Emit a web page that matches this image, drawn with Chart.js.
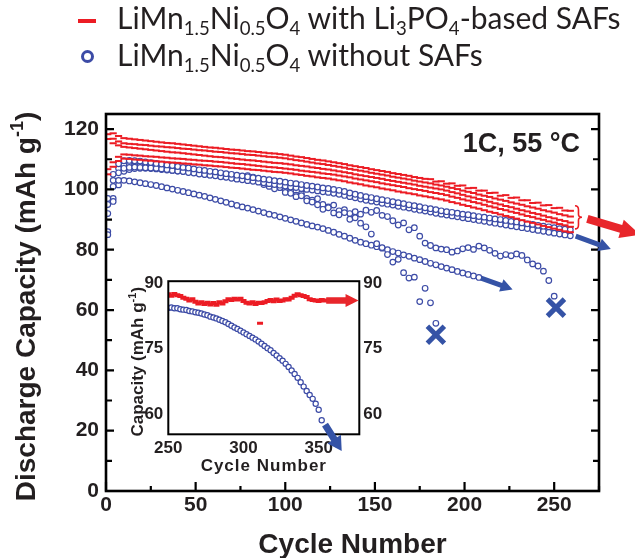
<!DOCTYPE html>
<html>
<head>
<meta charset="utf-8">
<script src="https://cdn.jsdelivr.net/npm/chart.js@4.4.1/dist/chart.umd.min.js"></script>
<style>
  body { margin: 0; background: #fff; }
  #wrap { position: relative; width: 635px; height: 558px; overflow: hidden; background: #fff; }
  #main { position: absolute; left: 0; top: 0; }
  #inset { position: absolute; left: 110px; top: 266px; }
  .lg { position: absolute; left: 117px; font-family: Lato, "Open Sans", sans-serif; font-size: 30px;
        line-height: 34px; white-space: nowrap; color: #231f20; }
  .lg sub { font-size: 0.62em; vertical-align: baseline; position: relative; top: 0.3em; }
  .dash { position: absolute; left: 78px; top: 19px; width: 18px; height: 4px; background: #ec1c24; }
  .ring { position: absolute; left: 81px; top: 50px; width: 7px; height: 7px; border: 3.3px solid #3c4ba6; border-radius: 50%; }
</style>
</head>
<body>
<div id="wrap">
  <canvas id="main" width="635" height="558"></canvas>
  <canvas id="inset" width="290" height="214"></canvas>
  <div class="dash"></div>
  <div class="lg" style="top:0px">LiMn<sub>1.5</sub>Ni<sub>0.5</sub>O<sub>4</sub> with Li<sub>3</sub>PO<sub>4</sub>-based SAFs</div>
  <div class="ring"></div>
  <div class="lg" style="top:37px">LiMn<sub>1.5</sub>Ni<sub>0.5</sub>O<sub>4</sub> without SAFs</div>
</div>
<script>
// cycling at 1C, 55 C: discharge capacity read every 3rd cycle, starting at cycle 1
const CYCLE_START = 1;
const CYCLE_STEP = 3;

// cells with Li3PO4-based SAFs
const withSAF1 = [
  120.0, 118.6, 117.7, 117.0, 116.8, 116.6, 116.4, 116.2, 116.0, 115.8,
  115.6, 115.4, 115.3, 115.1, 114.9, 114.7, 114.5, 114.3, 114.1, 113.9,
  113.8, 113.6, 113.4, 113.2, 113.1, 112.9, 112.7, 112.6, 112.4, 112.2,
  112.0, 111.9, 111.7, 111.5, 111.2, 110.9, 110.7, 110.4, 110.1, 109.8,
  109.6, 109.3, 109.0, 108.7, 108.4, 108.0, 107.7, 107.4, 107.1, 106.7,
  106.4, 106.1, 105.8, 105.4, 105.1, 104.8, 104.5, 104.1, 103.8, 103.5,
  103.4, 102.6, 102.7, 101.9, 102.0, 101.2, 101.3, 100.4, 100.5, 99.6,
  99.6, 98.8, 98.9, 97.9, 98.1, 97.2, 97.3, 96.4, 96.4, 95.5,
  95.6, 94.7, 94.8, 93.8, 93.9, 93.0, 92.9
];
const withSAF2 = [
  118.3, 116.8, 115.9, 115.3, 115.1, 115.0, 114.8, 114.7, 114.5, 114.3,
  114.2, 114.0, 113.9, 113.7, 113.5, 113.4, 113.2, 113.0, 112.9, 112.7,
  112.5, 112.4, 112.2, 112.0, 111.9, 111.7, 111.5, 111.4, 111.2, 111.0,
  110.8, 110.7, 110.5, 110.3, 110.0, 109.7, 109.5, 109.2, 108.9, 108.6,
  108.4, 108.1, 107.8, 107.5, 107.2, 106.8, 106.5, 106.2, 105.9, 105.5,
  105.2, 104.9, 104.6, 104.2, 103.9, 103.6, 103.3, 102.9, 102.6, 102.3,
  102.0, 101.6, 101.3, 100.9, 100.5, 100.1, 99.6, 99.2, 98.8, 98.3,
  97.9, 97.5, 97.0, 96.6, 96.2, 95.7, 95.3, 94.9, 94.4, 94.0,
  93.6, 93.1, 92.7, 92.3, 91.8, 91.4, 91.0
];
const withSAF3 = [
  116.7, 115.3, 114.6, 114.1, 113.9, 113.7, 113.5, 113.3, 113.1, 112.9,
  112.7, 112.5, 112.3, 112.2, 112.0, 111.8, 111.6, 111.4, 111.2, 111.0,
  110.8, 110.7, 110.5, 110.3, 110.1, 109.9, 109.7, 109.6, 109.4, 109.2,
  109.0, 108.8, 108.7, 108.5, 108.3, 108.0, 107.8, 107.6, 107.3, 107.1,
  106.8, 106.6, 106.3, 106.0, 105.7, 105.4, 105.0, 104.7, 104.4, 104.1,
  103.8, 103.5, 103.1, 102.8, 102.5, 102.2, 101.9, 101.6, 101.2, 100.9,
  100.6, 100.3, 100.0, 99.6, 99.1, 98.7, 98.2, 97.7, 97.3, 96.8,
  96.4, 95.9, 95.4, 95.0, 94.5, 94.1, 93.6, 93.1, 92.7, 92.2,
  91.8, 91.3, 90.8, 90.4, 89.9, 89.5, 89.0
];
const withSAF4 = [
  106.7, 109.0, 110.8, 111.6, 111.5, 111.3, 111.2, 111.0, 110.9, 110.8,
  110.6, 110.5, 110.3, 110.2, 110.1, 109.9, 109.8, 109.6, 109.5, 109.4,
  109.2, 109.1, 108.9, 108.7, 108.5, 108.4, 108.2, 108.0, 107.8, 107.6,
  107.4, 107.3, 107.1, 106.9, 106.7, 106.5, 106.2, 106.0, 105.8, 105.6,
  105.3, 105.1, 104.9, 104.6, 104.3, 104.0, 103.6, 103.3, 103.0, 102.7,
  102.4, 102.0, 101.7, 101.4, 101.1, 100.8, 100.4, 100.1, 99.8, 99.5,
  99.1, 98.8, 98.5, 98.1, 97.6, 97.2, 96.7, 96.3, 95.8, 95.4,
  94.9, 94.4, 94.0, 93.5, 93.1, 92.6, 92.2, 91.7, 91.2, 90.8,
  90.3, 89.9, 89.4, 89.0, 88.5, 88.1, 87.6
];
const withSAF5 = [
  105.0, 107.5, 109.4, 110.2, 110.1, 109.9, 109.8, 109.6, 109.5, 109.3,
  109.2, 109.0, 108.9, 108.8, 108.6, 108.5, 108.3, 108.2, 108.0, 107.9,
  107.7, 107.6, 107.4, 107.2, 107.1, 106.9, 106.7, 106.5, 106.4, 106.2,
  106.0, 105.8, 105.7, 105.5, 105.3, 105.0, 104.8, 104.5, 104.3, 104.0,
  103.8, 103.6, 103.3, 103.0, 102.7, 102.3, 102.0, 101.7, 101.3, 101.0,
  100.7, 100.3, 100.0, 99.7, 99.3, 99.0, 98.7, 98.4, 98.0, 97.7,
  97.4, 97.0, 96.7, 96.3, 95.8, 95.4, 94.9, 94.5, 94.0, 93.6,
  93.1, 92.6, 92.2, 91.7, 91.2, 90.8, 90.3, 89.8, 89.3, 88.9,
  88.4, 87.9, 87.5, 87.0, 86.6, 86.1, 85.8
];

// cells without SAFs
const noSAF1 = [
  97.0, 105.0, 108.5, 109.5, 109.6, 109.5, 109.4, 109.1, 108.9, 108.6,
  108.4, 108.1, 107.9, 107.6, 107.3, 107.1, 106.8, 106.5, 106.3, 106.0,
  105.8, 105.5, 105.2, 105.0, 104.7, 104.5, 104.2, 103.9, 103.7, 103.4,
  103.2, 102.9, 102.7, 102.4, 102.1, 101.9, 101.6, 101.3, 101.1, 100.8,
  100.5, 100.3, 100.0, 99.7, 99.3, 98.8, 98.4, 98.0, 97.6, 97.3,
  96.9, 96.6, 96.3, 95.9, 95.6, 95.3, 94.9, 94.6, 94.3, 93.9,
  93.6, 93.3, 92.9, 92.6, 92.4, 92.1, 91.8, 91.6, 91.3, 91.0,
  90.8, 90.5, 90.2, 90.0, 89.7, 89.4, 89.2, 88.9, 88.6, 88.4,
  88.1, 87.8, 87.6, 87.3, 87.0, 86.8, 86.6
];
const noSAF2 = [
  92.0, 101.0, 105.5, 107.0, 107.3, 107.4, 107.3, 107.2, 107.1, 107.0,
  106.8, 106.6, 106.3, 106.1, 105.9, 105.6, 105.4, 105.1, 104.9, 104.7,
  104.5, 104.2, 104.0, 103.7, 103.4, 103.2, 102.9, 102.7, 102.4, 102.2,
  101.9, 101.6, 101.4, 101.1, 100.8, 100.6, 100.3, 100.0, 99.8, 99.5,
  99.2, 99.0, 98.7, 98.4, 98.0, 97.6, 97.2, 96.8, 96.4, 96.1,
  95.8, 95.4, 95.1, 94.8, 94.4, 94.1, 93.8, 93.4, 93.1, 92.8,
  92.5, 92.1, 91.8, 91.5, 91.2, 90.9, 90.6, 90.3, 90.0, 89.7,
  89.4, 89.1, 88.8, 88.5, 88.2, 87.9, 87.6, 87.3, 87.0, 86.7,
  86.4, 86.1, 85.8, 85.5, 85.2, 84.9, 84.6
];
const noSAF3 = [
  85.0, 96.0, 103.0, 106.0, 106.6, 106.9, 107.0, 107.0, 106.9, 106.8,
  106.6, 106.4, 106.3, 106.1, 106.0, 105.8, 105.6, 105.3, 105.0, 104.8,
  104.6, 104.4, 104.2, 103.9, 103.6, 103.5, 104.6, 104.1, 103.2, 101.6,
  101.0, 100.2, 100.6, 99.0, 98.7, 97.6, 97.9, 96.2, 95.8, 94.9,
  93.4, 93.9, 92.2, 91.6, 92.3, 90.1, 90.6, 88.8, 87.6, 85.2,
  82.0, 80.7, 78.4, 75.9, 76.8, 72.4, 70.6, 70.9, 62.8, 67.2,
  62.4, 55.6
];
const noSAF4 = [
  95.0, 103.0, 107.0, 108.0, 108.1, 108.0, 107.9, 107.8, 107.7, 107.6,
  107.5, 107.3, 107.1, 106.9, 106.7, 106.5, 106.3, 106.0, 105.8, 105.5,
  105.2, 105.0, 104.7, 104.5, 104.3, 104.0, 103.7, 103.5, 103.0, 102.5,
  101.8, 101.4, 100.6, 100.0, 99.4, 98.1, 98.6, 97.0, 96.4, 96.9,
  95.0, 94.2, 94.8, 92.9, 93.3, 92.0, 92.6, 91.8, 93.1, 92.4,
  93.0, 91.4, 91.0, 89.6, 88.2, 88.9, 86.6, 87.3, 84.5, 82.2,
  81.4, 80.6, 80.2, 80.0, 79.2, 79.6, 80.3, 80.7, 80.1, 81.2,
  80.6, 79.8, 78.8, 77.9, 78.4, 78.0, 78.6, 78.1, 76.6, 75.3,
  74.6, 72.9, 69.8, 64.6
];
const noSAF5 = [
  86.0, 97.0, 101.5, 103.0, 102.8, 102.5, 102.2, 101.9, 101.6, 101.3,
  100.9, 100.5, 100.1, 99.7, 99.3, 98.9, 98.5, 98.1, 97.7, 97.2,
  96.7, 96.2, 95.7, 95.2, 94.7, 94.2, 93.8, 93.3, 92.8, 92.3,
  91.8, 91.4, 90.9, 90.4, 89.9, 89.4, 88.9, 88.4, 87.9, 87.5,
  87.0, 86.4, 85.8, 85.1, 84.5, 83.8, 83.1, 82.5, 82.0, 81.5,
  81.0, 80.5, 80.0, 79.4, 78.9, 78.3, 77.8, 77.2, 76.7, 76.1,
  75.5, 75.0, 74.4, 73.9, 73.4, 72.8, 72.3, 71.8, 71.3, 70.8
];

// cells that failed: last cycle and the capacity where they were stopped
const failCycle = [184, 251];
const failCapacity = [51.8, 60.8];

// inset: cycles 250 onward, every 2nd cycle
const INSET_START = 250;
const INSET_STEP = 2;
const insetWithSAF = [
  87.4, 87.1, 87.5, 87.2, 87.0,
  86.6, 86.4, 86.0, 86.3, 85.7,
  85.3, 85.6, 85.2, 85.5, 85.1, 85.4, 85.0, 85.6, 85.3, 85.8,
  86.3, 86.1, 86.4, 86.2, 86.4, 85.9,
  85.5, 85.3, 85.6, 85.2, 85.5, 85.4, 85.6,
  85.9, 86.1, 85.8, 86.2, 85.9, 86.0, 86.3, 86.2, 86.6,
  87.1, 87.4, 87.2, 87.0, 86.8,
  86.3, 86.1, 86.0, 85.9, 86.1, 86.0
];
const insetStrayCycle = [311];
const insetStrayCapacity = [80.8];
const insetNoSAF = [
  84.3, 84.4, 84.2, 84.2, 84.0, 83.9, 83.8, 83.6, 83.5, 83.3,
  83.2, 83.0, 82.8, 82.6, 82.3, 82.1, 81.9, 81.6, 81.3, 81.0,
  80.6, 80.2, 79.8, 79.5, 79.1, 78.7, 78.3, 77.9, 77.5, 77.1,
  76.6, 76.1, 75.6, 75.1, 74.6, 74.0, 73.4, 72.8, 72.2, 71.5,
  70.8, 70.0, 69.2, 68.3, 67.3, 66.3, 65.3, 64.4, 63.5, 62.4,
  61.0, 58.6
];

// axis ticks (labelled every 50 cycles / 20 mAh g-1, minor in between)
const xTicks = [0, 25, 50, 75, 100, 125, 150, 175, 200, 225, 250, 275];
const yTicks = [0, 10, 20, 30, 40, 50, 60, 70, 80, 90, 100, 110, 120];
const insetXTicks = [250, 300, 350];
const insetYTicks = [60, 75, 90];

const RED = '#ec1c24';
const BLUE = '#3c4ba6';
const RED_ARROW = '#e8262b';
const BLUE_ARROW = '#3553a6';
const INK = '#231f20';
const BOLD = '"Liberation Sans", Arial, sans-serif';
const NARROW = '"Liberation Sans Narrow", "Arial Narrow", "Liberation Sans", Arial, sans-serif';

function toPoints(start, step, vals) {
  return vals.map((v, i) => ({ x: start + step * i, y: v }));
}
function pairs(xs, ys) {
  return xs.map((x, i) => ({ x: x, y: ys[i] }));
}

function redSet(vals, start, step, r, w) {
  return {
    data: toPoints(start, step, vals),
    pointStyle: 'line', pointRadius: r, borderWidth: w,
    borderColor: RED, backgroundColor: RED, showLine: false
  };
}
function blueSet(vals, start, step, r, w) {
  return {
    data: toPoints(start, step, vals),
    pointStyle: 'circle', pointRadius: r, borderWidth: w,
    borderColor: BLUE, backgroundColor: '#ffffff', showLine: false
  };
}

function drawArrow(ctx, x1, y1, x2, y2, shaft, head, headLen, color) {
  const a = Math.atan2(y2 - y1, x2 - x1);
  const L = Math.hypot(x2 - x1, y2 - y1);
  ctx.save();
  ctx.translate(x1, y1);
  ctx.rotate(a);
  ctx.fillStyle = color;
  ctx.beginPath();
  ctx.moveTo(0, -shaft / 2);
  ctx.lineTo(L - headLen, -shaft / 2);
  ctx.lineTo(L - headLen, -head / 2);
  ctx.lineTo(L, 0);
  ctx.lineTo(L - headLen, head / 2);
  ctx.lineTo(L - headLen, shaft / 2);
  ctx.lineTo(0, shaft / 2);
  ctx.closePath();
  ctx.fill();
  ctx.restore();
}

// rotated axis title with a superscript "-1"
function drawYTitle(ctx, cx, cy, size, supSize, lead, sup, tail) {
  ctx.save();
  ctx.translate(cx, cy);
  ctx.rotate(-Math.PI / 2);
  ctx.fillStyle = INK;
  ctx.textBaseline = 'alphabetic';
  ctx.textAlign = 'left';
  ctx.font = 'bold ' + size + 'px ' + BOLD;
  const w1 = ctx.measureText(lead).width;
  const w3 = ctx.measureText(tail).width;
  ctx.font = 'bold ' + supSize + 'px ' + BOLD;
  const w2 = ctx.measureText(sup).width;
  let x = -(w1 + w2 + w3) / 2;
  ctx.font = 'bold ' + size + 'px ' + BOLD;
  ctx.fillText(lead, x, 0);
  x += w1;
  ctx.font = 'bold ' + supSize + 'px ' + BOLD;
  ctx.fillText(sup, x, -size * 0.42);
  x += w2;
  ctx.font = 'bold ' + size + 'px ' + BOLD;
  ctx.fillText(tail, x, 0);
  ctx.restore();
}

const mainDecor = {
  id: 'mainDecor',
  afterDraw(chart) {
    const ctx = chart.ctx;
    const a = chart.chartArea;
    const xs = chart.scales.x, ys = chart.scales.y;
    const px = v => xs.getPixelForValue(v);
    const py = v => ys.getPixelForValue(v);
    ctx.save();

    // frame and inward ticks
    ctx.strokeStyle = '#000';
    ctx.lineWidth = 2.6;
    ctx.strokeRect(a.left, a.top, a.right - a.left, a.bottom - a.top);
    ctx.lineWidth = 2.2;
    ctx.beginPath();
    xTicks.forEach(v => {
      const len = v % 50 === 0 ? 9 : 5;
      ctx.moveTo(px(v), a.bottom);
      ctx.lineTo(px(v), a.bottom - len);
    });
    yTicks.forEach(v => {
      const len = v % 20 === 0 ? 8 : 6;
      ctx.moveTo(a.left, py(v));
      ctx.lineTo(a.left + len, py(v));
      ctx.moveTo(a.right, py(v));
      ctx.lineTo(a.right - len, py(v));
    });
    ctx.stroke();

    // condition label
    ctx.fillStyle = INK;
    ctx.font = 'bold 27px ' + BOLD;
    ctx.textAlign = 'left';
    ctx.textBaseline = 'middle';
    ctx.fillText('1C, 55 \u00B0C', px(199), py(114.9));

    // brace grouping the SAF cells
    const bx = px(261.6), bt = py(94.6), bb = py(86.9), bm = (bt + bb) / 2, bw = 7;
    ctx.strokeStyle = RED;
    ctx.lineWidth = 1.6;
    ctx.beginPath();
    ctx.moveTo(bx, bt);
    ctx.quadraticCurveTo(bx + bw / 2, bt, bx + bw / 2, bt + 4);
    ctx.lineTo(bx + bw / 2, bm - 3);
    ctx.quadraticCurveTo(bx + bw / 2, bm, bx + bw, bm);
    ctx.quadraticCurveTo(bx + bw / 2, bm, bx + bw / 2, bm + 3);
    ctx.lineTo(bx + bw / 2, bb - 4);
    ctx.quadraticCurveTo(bx + bw / 2, bb, bx, bb);
    ctx.stroke();

    // trend arrows
    drawArrow(ctx, px(268.5), py(90.2), px(298), py(85.0), 8, 19, 20, RED_ARROW);
    drawArrow(ctx, px(262), py(84.5), px(281.6), py(80.2), 5, 13, 12, BLUE_ARROW);
    drawArrow(ctx, px(209.2), py(70.6), px(226.8), py(66.8), 5, 13, 12, BLUE_ARROW);

    // axis titles
    ctx.fillStyle = INK;
    ctx.font = 'bold 28px ' + BOLD;
    ctx.textAlign = 'center';
    ctx.textBaseline = 'alphabetic';
    ctx.fillText('Cycle Number', (a.left + a.right) / 2, 553);
    drawYTitle(ctx, 35, (a.top + a.bottom) / 2 + 4, 28, 18, 'Discharge Capacity (mAh g', '-1', ')');
    ctx.restore();
  }
};

const insetDecor = {
  id: 'insetDecor',
  afterDraw(chart) {
    const ctx = chart.ctx;
    const a = chart.chartArea;
    const xs = chart.scales.x, ys = chart.scales.y;
    const px = v => xs.getPixelForValue(v);
    const py = v => ys.getPixelForValue(v);
    ctx.save();
    ctx.strokeStyle = '#000';
    ctx.lineWidth = 2;
    ctx.strokeRect(a.left, a.top, a.right - a.left, a.bottom - a.top);

    drawArrow(ctx, px(355), py(86.0), px(376.5), py(86.0), 6.5, 13, 13, RED_ARROW);
    drawArrow(ctx, px(354.2), py(57.6), px(365.3), py(51.6), 7, 16, 14, BLUE_ARROW);

    ctx.fillStyle = INK;
    ctx.font = 'bold 17px ' + BOLD;
    ctx.textAlign = 'center';
    ctx.textBaseline = 'alphabetic';
    ctx.letterSpacing = '1px';
    ctx.fillText('Cycle Number', (a.left + a.right) / 2, a.bottom + 37);
    ctx.letterSpacing = '0px';
    drawYTitle(ctx, a.left - 25, (a.top + a.bottom) / 2 + 4, 17, 11, 'Capacity (mAh g', '-1', ')');
    ctx.restore();
  }
};

function tickFont(size, family) {
  return { family: family, size: size, weight: 'bold' };
}

new Chart(document.getElementById('main'), {
  type: 'scatter',
  data: {
    datasets: [
      {
        data: pairs(failCycle, failCapacity),
        pointStyle: 'crossRot', pointRadius: 12, borderWidth: 5,
        borderColor: BLUE_ARROW, backgroundColor: BLUE_ARROW, showLine: false
      },
      redSet(withSAF1, CYCLE_START, CYCLE_STEP, 3.6, 2),
      redSet(withSAF2, CYCLE_START, CYCLE_STEP, 3.6, 2),
      redSet(withSAF3, CYCLE_START, CYCLE_STEP, 3.6, 2),
      redSet(withSAF4, CYCLE_START, CYCLE_STEP, 3.6, 2),
      redSet(withSAF5, CYCLE_START, CYCLE_STEP, 3.6, 2),
      blueSet(noSAF1, CYCLE_START, CYCLE_STEP, 2.8, 1.2),
      blueSet(noSAF2, CYCLE_START, CYCLE_STEP, 2.8, 1.2),
      blueSet(noSAF3, CYCLE_START, CYCLE_STEP, 2.8, 1.2),
      blueSet(noSAF4, CYCLE_START, CYCLE_STEP, 2.8, 1.2),
      blueSet(noSAF5, CYCLE_START, CYCLE_STEP, 2.8, 1.2)
    ]
  },
  options: {
    responsive: false,
    animation: false,
    events: [],
    layout: { padding: { top: 114, right: 36, left: 0, bottom: 0 } },
    plugins: { legend: { display: false }, tooltip: { enabled: false } },
    scales: {
      x: {
        type: 'linear', min: 0, max: 275,
        grid: { display: false, drawTicks: false },
        border: { display: false },
        afterBuildTicks: s => { s.ticks = xTicks.map(v => ({ value: v })); },
        afterFit: s => { s.height = 67; },
        ticks: {
          autoSkip: false, maxRotation: 0, padding: 2, color: INK,
          font: tickFont(21, BOLD),
          callback: v => (v % 50 === 0 ? String(v) : '')
        }
      },
      y: {
        type: 'linear', min: 0, max: 125,
        grid: { display: false, drawTicks: false },
        border: { display: false },
        afterBuildTicks: s => { s.ticks = yTicks.map(v => ({ value: v })); },
        afterFit: s => { s.width = 106; },
        ticks: {
          autoSkip: false, padding: 7, color: INK,
          font: tickFont(21, BOLD),
          callback: v => (v % 20 === 0 ? String(v) : '')
        }
      }
    }
  },
  plugins: [mainDecor]
});

new Chart(document.getElementById('inset'), {
  type: 'scatter',
  data: {
    datasets: [
      redSet(insetWithSAF, INSET_START, INSET_STEP, 3, 4),
      {
        data: pairs(insetStrayCycle, insetStrayCapacity),
        pointStyle: 'line', pointRadius: 3, borderWidth: 3,
        borderColor: RED, backgroundColor: RED, showLine: false
      },
      blueSet(insetNoSAF, INSET_START, INSET_STEP, 2.6, 1.2)
    ]
  },
  options: {
    responsive: false,
    animation: false,
    events: [],
    layout: { padding: { top: 14.7, right: 0, left: 0, bottom: 0 } },
    plugins: { legend: { display: false }, tooltip: { enabled: false } },
    scales: {
      x: {
        type: 'linear', min: 250, max: 377,
        grid: { display: false, drawTicks: false },
        border: { display: false },
        afterBuildTicks: s => { s.ticks = insetXTicks.map(v => ({ value: v })); },
        afterFit: s => { s.height = 45.7; },
        ticks: { autoSkip: false, maxRotation: 0, padding: 4, color: INK, font: tickFont(17, NARROW) }
      },
      y: {
        type: 'linear', position: 'left', min: 55.4, max: 90.4,
        grid: { display: false, drawTicks: false },
        border: { display: false },
        afterBuildTicks: s => { s.ticks = insetYTicks.map(v => ({ value: v })); },
        afterFit: s => { s.width = 58.3; },
        ticks: { autoSkip: false, padding: 5, color: INK, font: tickFont(17, NARROW) }
      },
      yr: {
        type: 'linear', position: 'right', min: 55.4, max: 90.4,
        grid: { display: false, drawTicks: false },
        border: { display: false },
        afterBuildTicks: s => { s.ticks = insetYTicks.map(v => ({ value: v })); },
        afterFit: s => { s.width = 40.7; },
        ticks: { autoSkip: false, padding: 4, color: INK, font: tickFont(17, NARROW) }
      }
    }
  },
  plugins: [insetDecor]
});
</script>
</body>
</html>
